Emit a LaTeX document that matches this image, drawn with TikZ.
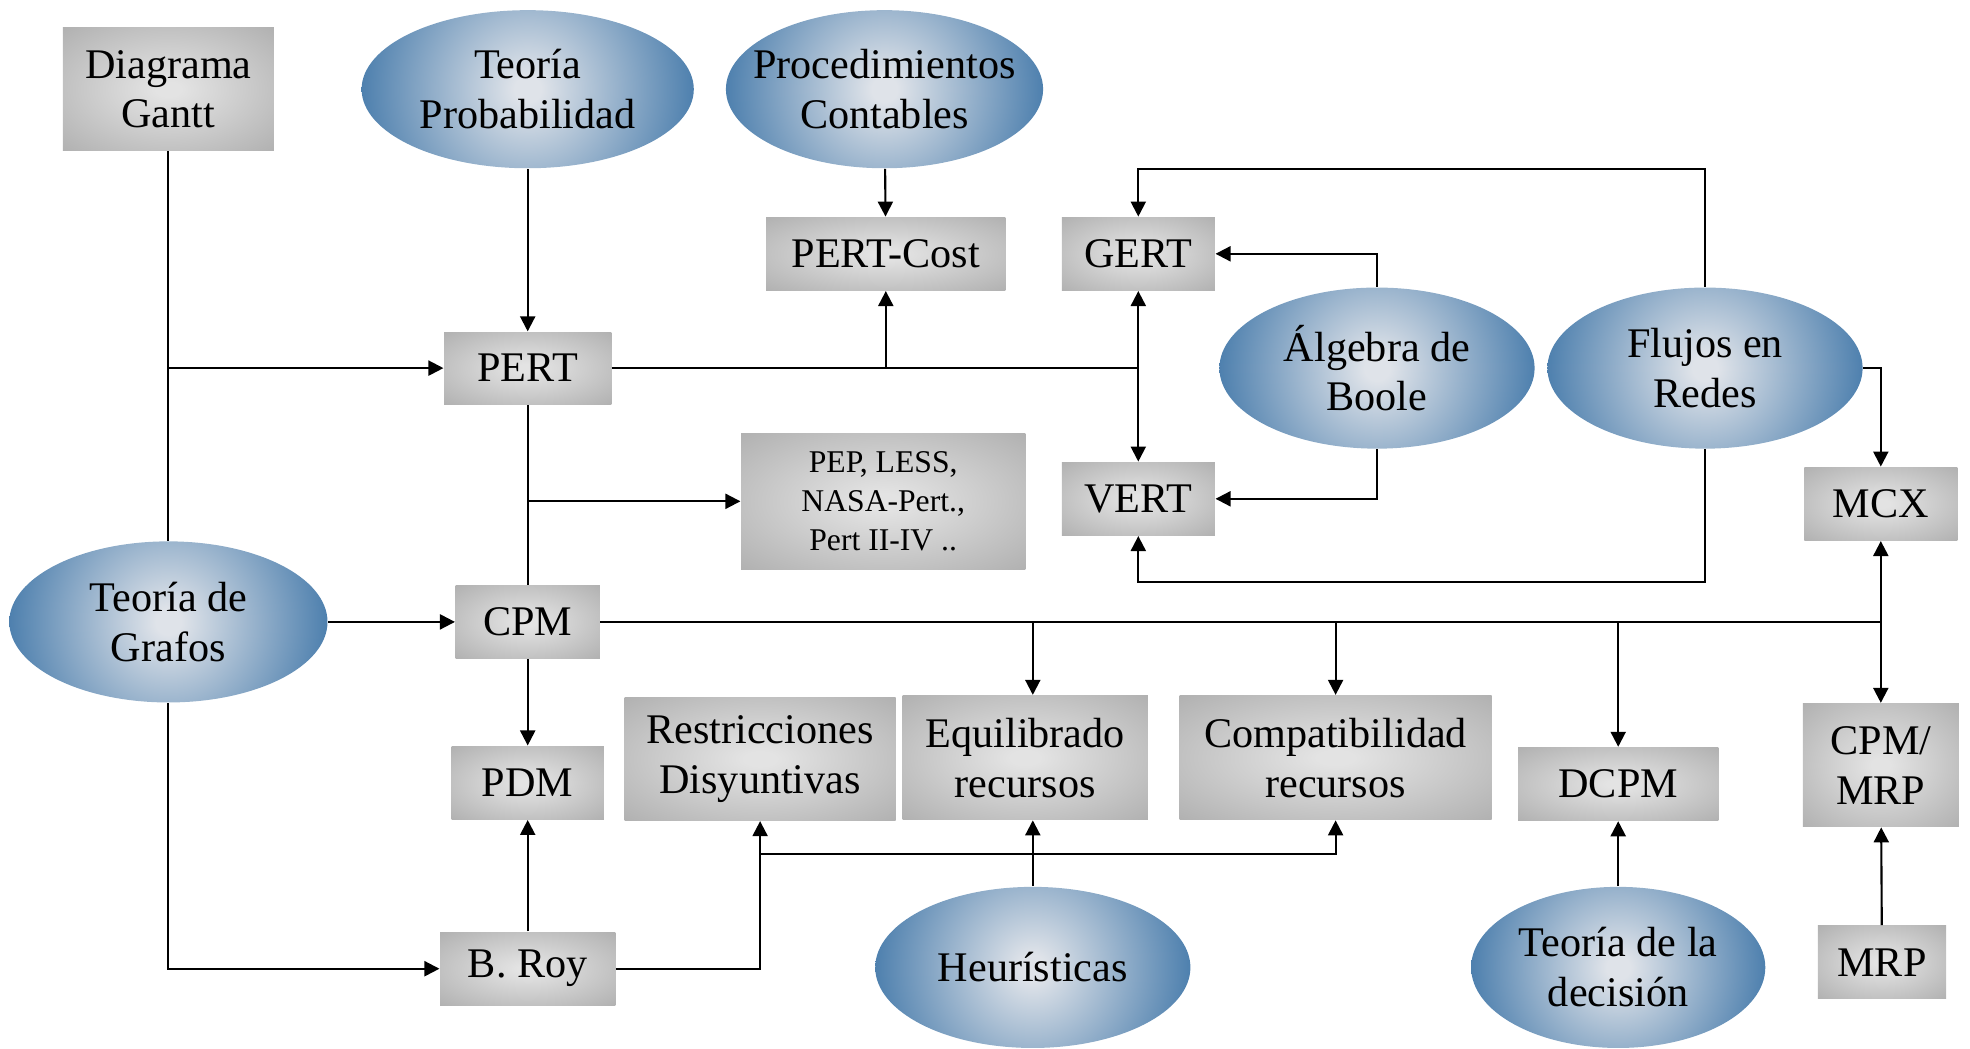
\documentclass[tikz,border=0pt]{standalone}
\usepackage{fontspec}
\setmainfont{Liberation Serif}
\usetikzlibrary{arrows.meta, shapes.geometric, calc}

\definecolor{boxin}{HTML}{E3E3E3}
\definecolor{boxout}{HTML}{B0B0B0}
\definecolor{ellin}{HTML}{DFE3E9}
\definecolor{ellout}{HTML}{4E80AE}
\pgfdeclareradialshading{boxshade}{\pgfpoint{0bp}{0bp}}{color(0bp)=(boxin); color(3bp)=(boxin); color(36bp)=(boxout); color(50bp)=(boxout)}
\pgfdeclareradialshading{ellshade}{\pgfpoint{0bp}{0bp}}{color(0bp)=(ellin); color(2bp)=(ellin); color(25bp)=(ellout); color(50bp)=(ellout)}

\tikzset{
 graybox/.style={rectangle, shading=boxshade, inner sep=0pt, align=center,
   font=\fontsize{12}{14.2}\selectfont},
 blueell/.style={ellipse, inner xsep=-4mm, inner ysep=0pt, align=center,
   path picture={\shade[shading=ellshade] let \p1=(path picture bounding box.east),
     \p2=(path picture bounding box.center) in (\p2) circle ({\x1-\x2});},
   minimum width=31.5mm, minimum height=16.1mm, font=\fontsize{12}{14.2}\selectfont},
 link/.style={line width=0.6pt, -{Triangle[length=1.5mm,width=1.5mm]}},
 plain/.style={line width=0.6pt}
}

\begin{document}
\begin{tikzpicture}[x=0.01cm, y=-0.01cm]
 \useasboundingbox (0,0) rectangle (1970,1048);

 % sources
 \node[graybox, minimum width=21.1mm, minimum height=12.3mm] (gantt) at (168.4,89.2) {Diagrama\\Gantt};
 \node[blueell, minimum width=33.2mm, minimum height=15.8mm] (prob) at (527.7,89.2) {Teoría\\Probabilidad};
 \node[blueell, minimum width=31.7mm, minimum height=15.8mm] (proc) at (884.5,89.2) {Procedimientos\\Contables};
 \node[blueell, minimum width=31.8mm] (grafos) at (168.4,621.9) {Teoría de\\Grafos};
 \node[blueell] (boole) at (1377,368.1) {Álgebra de\\Boole};
 \node[blueell] (flujos) at (1705,368.1) {Flujos en\\Redes};
 \node[blueell] (heur) at (1032.8,967.4) {Heurísticas};
 \node[blueell, minimum width=29.4mm] (dec) at (1618.2,967.4) {Teoría de la\\decisión};

 % methods
 \node[graybox, minimum width=23.9mm, minimum height=7.3mm] (pcost) at (885.8,253.8) {PERT-Cost};
 \node[graybox, minimum width=15.3mm, minimum height=7.3mm] (gert) at (1138.3,253.8) {GERT};
 \node[graybox, minimum width=16.7mm, minimum height=7.2mm] (pert) at (527.7,368.1) {PERT};
 \node[graybox, minimum width=28.4mm, minimum height=13.6mm, font=\fontsize{9}{11.2}\selectfont] (pep) at (883.2,501.3) {PEP, LESS,\\NASA-Pert.,\\Pert II-IV ..};
 \node[graybox, minimum width=15.3mm, minimum height=7.3mm] (vert) at (1138.3,498.8) {VERT};
 \node[graybox, minimum width=15.3mm, minimum height=7.3mm] (mcx) at (1880.8,503.8) {MCX};
 \node[graybox, minimum width=14.4mm, minimum height=7.3mm] (cpm) at (527.7,621.9) {CPM};
 \node[graybox, minimum width=27.1mm, minimum height=12.3mm] (restr) at (760.1,758.9) {Restricciones\\Disyuntivas};
 \node[graybox, minimum width=24.5mm, minimum height=12.4mm] (equil) at (1025.2,757.6) {Equilibrado\\recursos};
 \node[graybox, minimum width=31.2mm, minimum height=12.4mm] (compat) at (1335.6,757.6) {Compatibilidad\\recursos};
 \node[graybox, minimum width=15.2mm, minimum height=7.3mm] (pdm) at (527.7,782.7) {PDM};
 \node[graybox, minimum width=20mm, minimum height=7.3mm] (dcpm) at (1618.2,784) {DCPM};
 \node[graybox, minimum width=15.6mm, minimum height=12.3mm] (cpmrp) at (1880.8,765.1) {CPM/\\MRP};
 \node[graybox, minimum width=17.5mm, minimum height=7.3mm] (roy) at (527.7,968.7) {B. Roy};
 \node[graybox, minimum width=12.8mm, minimum height=7.3mm] (mrp) at (1882,962.4) {MRP};

 \coordinate (hbar) at (1032.8,854.4);

 % connectors
 \draw[plain] (gantt) -- (grafos);
 \draw[link] (gantt.south |- pert) -- (pert);
 \draw[link] (grafos) -- (cpm);
 \draw[link] (grafos.south) |- (roy);
 \draw[link] (prob) -- (pert);
 \draw[link] (proc) -- (pcost);
 \draw[plain] (pert) -- (gert |- pert);
 \draw[link] (pcost |- pert) -- (pcost);
 \draw[link] (gert |- pert) -- (gert);
 \draw[link] (gert |- pert) -- (vert);
 \draw[link] (boole.north) |- (gert);
 \draw[link] (boole.south) |- (vert);
 \draw[link] (flujos.north) -- ++(0,-118) -| (gert.north);
 \draw[link] (flujos.south) -- ++(0,133) -| (vert.south);
 \draw[link] (flujos.east) -| (mcx.north);
 \draw[plain] (pert) -- (cpm);
 \draw[link] (pert |- pep) -- (pep);
 \draw[plain] (cpm) -- (mcx |- cpm);
 \draw[link] (mcx |- cpm) -- (mcx);
 \draw[link] (mcx |- cpm) -- (cpmrp);
 \draw[link] (heur |- cpm) -- (heur |- equil.north);
 \draw[link] (compat |- cpm) -- (compat);
 \draw[link] (dcpm |- cpm) -- (dcpm);
 \draw[link] (cpm) -- (pdm);
 \draw[link] (roy) -- (pdm);
 \draw[link] (roy) -| (restr.south);
 \draw[link] (restr.south |- hbar) -| (compat.south);
 \draw[link] (heur.north) -- (heur.north |- equil.south);
 \draw[link] (dec) -- (dcpm);
 \draw[link] (mrp) -- (cpmrp);
\end{tikzpicture}
\end{document}
